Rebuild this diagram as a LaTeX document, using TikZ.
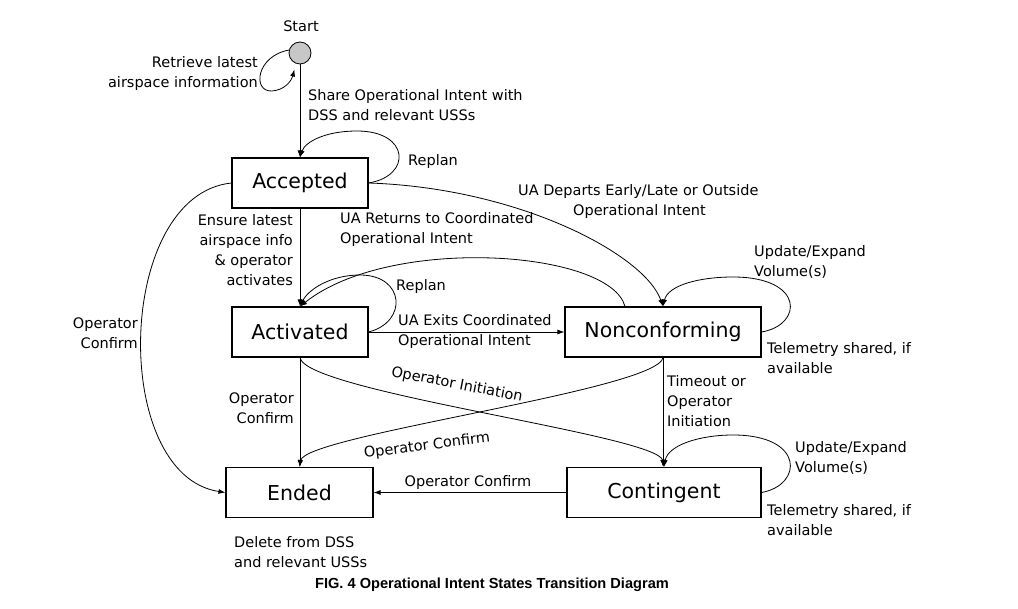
\documentclass[tikz,border=0pt]{standalone}
\usepackage{fontspec}
\setmainfont{DejaVu Sans}
\newfontfamily\capfont{Liberation Sans}
\usetikzlibrary{arrows.meta}
\begin{document}
\begin{tikzpicture}[x=1pt,y=-1pt,
  state/.style={draw, line width=1.1pt, minimum height=50pt, inner sep=0pt, font=\fontsize{20.5}{24}\selectfont},
  lbl/.style={font=\fontsize{14.5}{20}\selectfont, inner sep=0pt},
  conn/.style={line width=0.8pt, -{Latex[length=7pt,width=5pt]}}]
\useasboundingbox (0,0) rectangle (1018,609);
% states
\node[circle, draw, line width=0.8pt, fill=black!22, minimum size=22pt, inner sep=0pt] (st) at (300,53) {};
\node[state, minimum width=136pt] (acc) at (300,183) {Accepted};
\node[state, minimum width=136pt] (act) at (300,332) {Activated};
\node[state, minimum width=196pt] (non) at (663,332) {Nonconforming};
\node[state, minimum width=147pt] (end) at (299.5,492.5) {Ended};
\node[state, minimum width=194pt] (con) at (664,492.5) {Contingent};
% coordinates
\coordinate (nonret) at ([xshift=-38pt]non.north);
% edges
\draw[conn] (st.south) -- (st.south |- acc.north);
\draw[conn, shorten >=6pt] (st.165) .. controls (256,56) and (252,92) .. (272,91) .. controls (284,90) and (291,82) .. (st.250);
\draw[conn] (acc.east) .. controls (412,176) and (410,131) .. (357,131) .. controls (325,131) and (305,142) .. (acc.north);
\draw[conn] (acc.south) -- (act.north);
\draw[conn] (acc.east) .. controls (520,188) and (645,255) .. (non.north);
\draw[conn] (nonret) .. controls (610,250) and (390,235) .. (act.north);
\draw[conn] (act.east) .. controls (408,322) and (405,275) .. (360,275) .. controls (330,275) and (308,290) .. (act.north);
\draw[conn] (act.east) -- (non.west);
\draw[conn] (non.east) .. controls (803,325) and (805,277) .. (733,277) .. controls (700,277) and (668,285) .. (non.north);
\draw[conn] (non.south) -- (non.south |- con.north);
\draw[conn] (act.south) .. controls (305,392) and (658,435) .. (con.north);
\draw[conn] (non.south) .. controls (658,390) and (305,435) .. (end.north);
\draw[conn] (act.south) -- (act.south |- end.north);
\draw[conn] (acc.west) .. controls (115,195) and (110,475) .. (end.west);
\draw[conn] (con.west) -- (end.east);
\draw[conn] (con.east) .. controls (803,485) and (805,435) .. (733,435) .. controls (700,435) and (668,445) .. (con.north);
% labels
\node[lbl] (tstart) at (301,26) {Start};
\node[lbl, anchor=east, align=right] (tretr) at (258,74) {Retrieve latest\\airspace information};
\node[lbl, anchor=west, align=left] (tshare) at (308,105.5) {Share Operational Intent with\\DSS and relevant USSs};
\node[lbl, anchor=west] (trep1) at (408,162) {Replan};
\node[lbl, anchor=east, align=right] (tens) at (293,250) {Ensure latest\\airspace info\\\& operator\\activates};
\node[lbl, anchor=west, align=left] (tret) at (340,230) {UA Returns to Coordinated\\Operational Intent};
\node[lbl, anchor=west, align=left] (tdep) at (518,201.5) {UA Departs Early/Late or Outside\\\hspace*{55pt}Operational Intent};
\node[lbl, anchor=west] (trep2) at (396,287) {Replan};
\node[lbl, anchor=west, align=left] (texit) at (398,332) {UA Exits Coordinated\\Operational Intent};
\node[lbl, anchor=west, align=left] (tupd1) at (754,262) {Update/Expand\\Volume(s)};
\node[lbl, anchor=west, align=left] (ttel1) at (767,358) {Telemetry shared, if\\available};
\node[lbl, anchor=west, align=left] (ttime) at (667,401) {Timeout or\\Operator\\Initiation};
\node[lbl, anchor=east, align=right] (toc1) at (294,408) {Operator\\Confirm};
\node[lbl, anchor=east, align=right] (toc2) at (138,333) {Operator\\Confirm};
\node[lbl, rotate=-11] (tinit) at (457,385) {Operator Initiation};
\node[lbl, rotate=7] (toc3) at (427,446) {Operator Confirm};
\node[lbl] (toc4) at (468,482) {Operator Confirm};
\node[lbl, anchor=west, align=left] (tupd2) at (795,458) {Update/Expand\\Volume(s)};
\node[lbl, anchor=west, align=left] (ttel2) at (767,520) {Telemetry shared, if\\available};
\node[lbl, anchor=west, align=left] (tdel) at (234,552) {Delete from DSS\\and relevant USSs};
\node[font=\capfont\bfseries\fontsize{14.6}{17}\selectfont, inner sep=0pt] (cap) at (492,585) {FIG. 4 Operational Intent States Transition Diagram};
\end{tikzpicture}
\end{document}
